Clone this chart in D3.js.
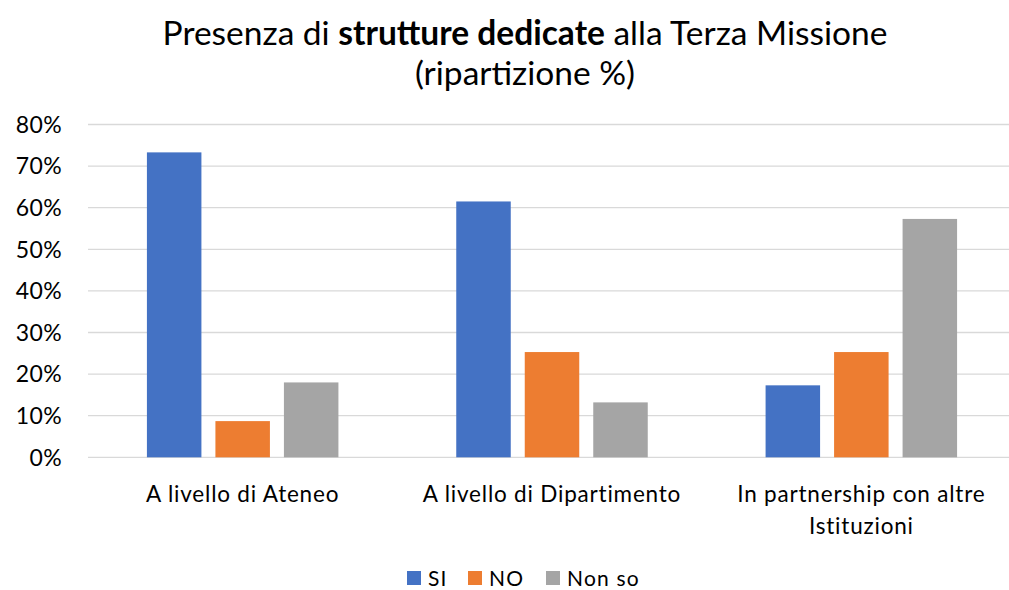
<!DOCTYPE html>
<html><head><meta charset="utf-8">
<script src="https://cdn.jsdelivr.net/npm/d3@7"></script>
<style>body{margin:0;background:#fff}svg{display:block}text{font-family:Lato,"Open Sans",sans-serif;fill:#000}</style>
</head><body>
<svg id="c" width="1009" height="590"></svg>
<script>
const categories = ["A livello di Ateneo", "A livello di Dipartimento", "In partnership con altre|Istituzioni"];
const seriesNames = ["SI", "NO", "Non so"];
const siValues = [73.3, 61.5, 17.3];
const noValues = [8.7, 25.3, 25.3];
const nonSoValues = [18.0, 13.2, 57.3];
const yTicks = [0, 10, 20, 30, 40, 50, 60, 70, 80];
const colors = ["#4472C4", "#ED7D31", "#A5A5A5"];

const seriesValues = [siValues, noValues, nonSoValues];
const data = categories.map((c, i) => ({cat: c, vals: seriesNames.map((s, j) => ({s, v: seriesValues[j][i], c: colors[j]}))}));

const svg = d3.select("#c");
const y = d3.scaleLinear().domain([0, 80]).range([457.3, 124.5]);
const x0 = d3.scaleBand().domain(categories).range([88, 1016]).padding(0);
const groupW = 191.5;
const x1 = d3.scaleBand().domain(seriesNames).range([0, groupW]).paddingInner(14 / 68.5).paddingOuter(0);

// gridlines
svg.append("g").selectAll("line").data(yTicks).join("line")
  .attr("x1", 88).attr("x2", 1009)
  .attr("y1", d => y(d)).attr("y2", d => y(d))
  .attr("stroke", "#d9d9d9").attr("stroke-width", 1.3);

// y labels
svg.append("g").selectAll("text").data(yTicks).join("text")
  .attr("x", 62).attr("y", d => y(d)).attr("dy", "0.36em")
  .attr("text-anchor", "end").attr("font-size", 23).attr("letter-spacing", 0.4)
  .text(d => d + "%");

// bars
const g = svg.append("g").selectAll("g").data(data).join("g")
  .attr("transform", d => `translate(${x0(d.cat) + (x0.bandwidth() - groupW) / 2},0)`);
g.selectAll("rect").data(d => d.vals).join("rect")
  .attr("x", d => x1(d.s)).attr("width", x1.bandwidth())
  .attr("y", d => y(d.v)).attr("height", d => y(0) - y(d.v))
  .attr("fill", d => d.c);

// x labels
svg.append("g").selectAll("text").data(categories).join("text")
  .attr("x", d => x0(d) + x0.bandwidth() / 2).attr("y", 502)
  .attr("text-anchor", "middle").attr("font-size", 22.5).attr("letter-spacing", 0.8)
  .each(function(d) {
    const lines = d.split("|");
    d3.select(this).selectAll("tspan").data(lines).join("tspan")
      .attr("x", x0(d) + x0.bandwidth() / 2).attr("dy", (l, i) => i === 0 ? 0 : 32).text(l => l);
  });

// title
const t = svg.append("text").attr("x", 525).attr("y", 45).attr("text-anchor", "middle").attr("font-size", 33.5);
t.append("tspan").text("Presenza di ");
t.append("tspan").attr("font-weight", "bold").text("strutture dedicate");
t.append("tspan").text(" alla Terza Missione");
svg.append("text").attr("x", 525).attr("y", 85).attr("text-anchor", "middle").attr("font-size", 33.5).text("(ripartizione %)");

// legend
const legX = [407, 468, 546];
const lg = svg.append("g").selectAll("g").data(seriesNames).join("g")
  .attr("transform", (d, i) => `translate(${legX[i]},571)`);
lg.append("rect").attr("width", 14).attr("height", 14).attr("fill", (d, i) => colors[i]);
lg.append("text").attr("x", 21).attr("y", 7).attr("dy", "0.36em").attr("font-size", 21).attr("letter-spacing", 1.2).text(d => d);
</script>
</body></html>
